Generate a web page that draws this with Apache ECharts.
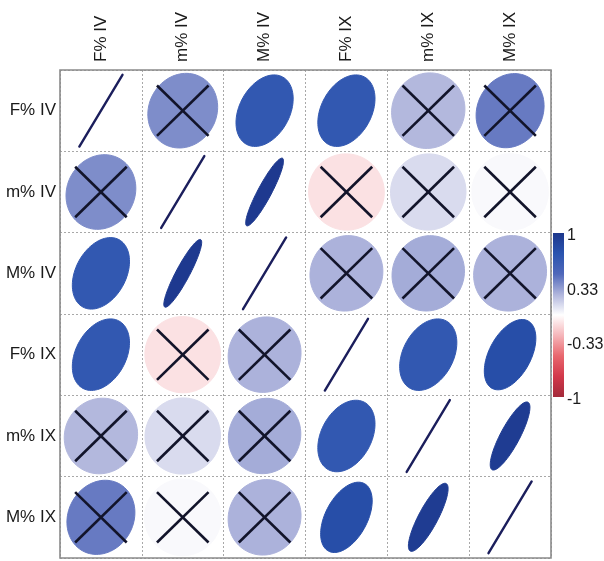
<!DOCTYPE html>
<html>
<head>
<meta charset="utf-8">
<title>Correlation matrix</title>
<script src="https://cdn.jsdelivr.net/npm/echarts@6/dist/echarts.min.js"></script>
<style>
  html, body { margin: 0; padding: 0; background: #ffffff; }
  #chart { width: 604px; height: 561px; }
</style>
</head>
<body>
<div id="chart"></div>
<script>
// Variable names (rows and columns of the matrix)
const variables = ['F% IV', 'm% IV', 'M% IV', 'F% IX', 'm% IX', 'M% IX'];

// Correlation coefficients, one row per variable
const rowF_IV = [1.00, 0.38, 0.70, 0.70, 0.24, 0.44];
const rowm_IV = [0.38, 1.00, 0.98, -0.10, 0.12, 0.02];
const rowM_IV = [0.70, 0.98, 1.00, 0.26, 0.28, 0.26];
const rowF_IX = [0.70, -0.10, 0.26, 1.00, 0.70, 0.80];
const rowm_IX = [0.24, 0.12, 0.28, 0.70, 1.00, 0.96];
const rowM_IX = [0.44, 0.02, 0.26, 0.80, 0.96, 1.00];

// 1 = not significant (drawn with a cross)
const insigF_IV = [0, 1, 0, 0, 1, 1];
const insigm_IV = [1, 0, 0, 1, 1, 1];
const insigM_IV = [0, 0, 0, 1, 1, 1];
const insigF_IX = [0, 1, 1, 0, 0, 0];
const insigm_IX = [1, 1, 1, 0, 0, 0];
const insigM_IX = [1, 1, 1, 0, 0, 0];

// Colour bar tick labels
const legendTicks = [1, 0.33, -0.33, -1];
const legendTickLabels = ['1', '0.33', '-0.33', '-1'];

// Colour ramp from -1 (first) to 1 (last), evenly spaced
const rampColors = ['#a32a3a', '#d2384a', '#e8676e', '#f5b5b9', '#ffffff',
                    '#b0b5dc', '#5068ba', '#2a54af', '#1d378c'];

const corrRows = [rowF_IV, rowm_IV, rowM_IV, rowF_IX, rowm_IX, rowM_IX];
const insigRows = [insigF_IV, insigm_IV, insigM_IV, insigF_IX, insigm_IX, insigM_IX];

const cells = [];
corrRows.forEach((row, yi) => {
  row.forEach((r, xi) => {
    cells.push([xi, yi, r, insigRows[yi][xi]]);
  });
});

// Layout
const GRID_LEFT = 60, GRID_TOP = 70, GRID_W = 491, GRID_H = 488;
const BAR_X = 553, BAR_Y = 233, BAR_W = 11, BAR_H = 164;
const FONT = '"Liberation Sans", Arial, Helvetica, sans-serif';

const ELLIPSE_TILT = 62 * Math.PI / 180;
const LINE_TILT = 59 * Math.PI / 180;

function renderCell(params, api) {
  const c = api.coord([api.value(0), api.value(1)]);
  const size = api.size([1, 1]);
  const w = size[0], h = size[1];
  const r = api.value(2);
  const crossed = api.value(3);
  const sign = r >= 0 ? 1 : -1;
  const children = [];

  if (Math.abs(r) >= 0.999) {
    const ux = Math.cos(LINE_TILT), uy = -sign * Math.sin(LINE_TILT);
    const L = 0.515 * h;
    children.push({
      type: 'line',
      shape: { x1: c[0] - ux * L, y1: c[1] - uy * L, x2: c[0] + ux * L, y2: c[1] + uy * L },
      style: { stroke: '#1b1e5c', lineWidth: 2.4, lineCap: 'round' }
    });
  } else {
    const ux = Math.cos(ELLIPSE_TILT), uy = -sign * Math.sin(ELLIPSE_TILT);
    const vx = -uy, vy = ux;
    // major semi-axis fixed, minor one shrinks as |r| grows
    const a = 0.47 * h;
    const b = a * Math.sqrt(1 - Math.pow(Math.abs(r), 1.6));
    const pts = [];
    const n = 90;
    for (let i = 0; i < n; i++) {
      const t = (i / n) * Math.PI * 2;
      const ca = a * Math.cos(t), sb = b * Math.sin(t);
      pts.push([c[0] + ca * ux + sb * vx, c[1] + ca * uy + sb * vy]);
    }
    const col = api.visual('color');
    children.push({
      type: 'polygon',
      shape: { points: pts },
      style: { fill: col, stroke: col, lineWidth: 1 }
    });
  }

  if (crossed) {
    const kx = 0.315 * w, ky = 0.31 * h;
    const st = { stroke: '#12142a', lineWidth: 2.6 };
    children.push({ type: 'line', shape: { x1: c[0] - kx, y1: c[1] - ky, x2: c[0] + kx, y2: c[1] + ky }, style: st });
    children.push({ type: 'line', shape: { x1: c[0] - kx, y1: c[1] + ky, x2: c[0] + kx, y2: c[1] - ky }, style: st });
  }
  return { type: 'group', children: children };
}

// Colour bar
const barStops = rampColors.map((col, i) => ({ offset: 1 - i / (rampColors.length - 1), color: col }));
const graphics = [
  {
    type: 'rect',
    shape: { x: GRID_LEFT, y: GRID_TOP, width: GRID_W, height: GRID_H },
    style: { fill: 'none', stroke: '#8a8a8a', lineWidth: 1.6 },
    z: 100
  },
  {
    type: 'rect',
    shape: { x: BAR_X, y: BAR_Y, width: BAR_W, height: BAR_H },
    style: {
      fill: new echarts.graphic.LinearGradient(0, 0, 0, 1, barStops.slice().reverse())
    },
    z: 100
  }
];
legendTicks.forEach((v, i) => {
  graphics.push({
    type: 'text',
    x: BAR_X + BAR_W + 3,
    y: BAR_Y + (1 - v) / 2 * BAR_H + 3,
    style: {
      text: legendTickLabels[i],
      fill: '#1a1a1a',
      fontSize: 16,
      fontFamily: FONT,
      align: 'left',
      verticalAlign: 'middle'
    },
    z: 100
  });
});

const axisCommon = {
  type: 'category',
  data: variables,
  axisLine: { show: false },
  axisTick: { show: false },
  splitLine: {
    show: true,
    interval: 0,
    lineStyle: { color: '#a8a8a8', width: 1, type: [2, 2] }
  }
};

const option = {
  backgroundColor: '#ffffff',
  animation: false,
  grid: { left: GRID_LEFT, top: GRID_TOP, width: GRID_W, height: GRID_H },
  xAxis: Object.assign({}, axisCommon, {
    position: 'top',
    axisLabel: { rotate: -90, margin: 8, fontSize: 17, color: '#1a1a1a', fontFamily: FONT }
  }),
  yAxis: Object.assign({}, axisCommon, {
    inverse: true,
    axisLabel: { margin: 4, fontSize: 17, color: '#1a1a1a', fontFamily: FONT }
  }),
  visualMap: {
    type: 'continuous',
    show: false,
    min: -1,
    max: 1,
    dimension: 2,
    seriesIndex: 0,
    inRange: { color: rampColors }
  },
  graphic: graphics,
  series: [{
    type: 'custom',
    renderItem: renderCell,
    encode: { x: 0, y: 1 },
    data: cells
  }]
};

const chart = echarts.init(document.getElementById('chart'), null, { renderer: 'canvas' });
chart.setOption(option);
</script>
</body>
</html>
